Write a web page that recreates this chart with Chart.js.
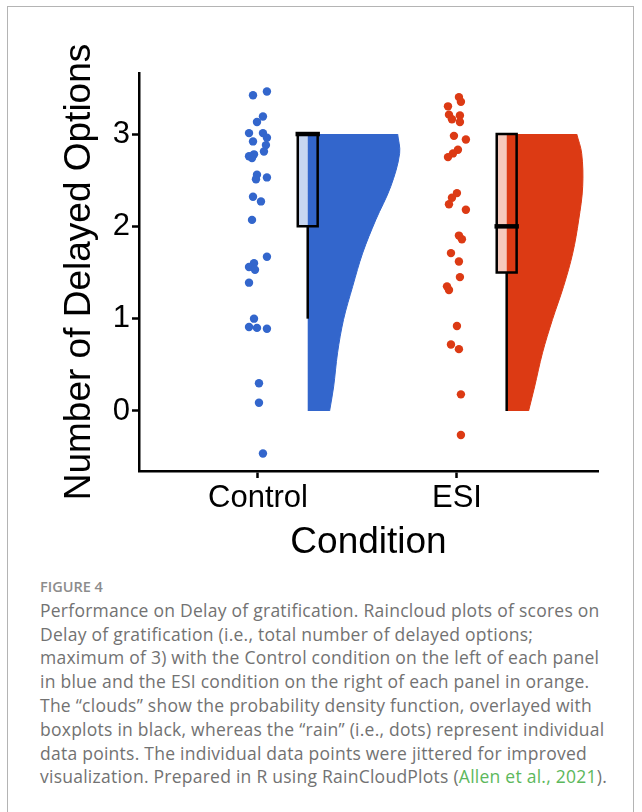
<!DOCTYPE html>
<html>
<head>
<meta charset="utf-8">
<script src="https://cdn.jsdelivr.net/npm/chart.js@4.4.1/dist/chart.umd.min.js"></script>
<style>
  html, body { margin: 0; padding: 0; background: #fff; }
  body { width: 642px; height: 812px; position: relative; overflow: hidden; }
  .card { position: absolute; left: 7px; top: 6px; width: 627px; height: 900px; border: 1px solid #b4b4b4; box-sizing: border-box; }
  #rain { position: absolute; left: 0; top: 0; }
  .caption { position: absolute; left: 40px; top: 575px; font-family: 'Open Sans', Lato, sans-serif; font-size: 17.5px; letter-spacing: 0.25px; line-height: 23.8px; color: #727272; white-space: nowrap; }
  .caption .label { font-size: 14.5px; letter-spacing: 0; font-weight: 600; color: #8c8c8c; }
  .caption .cite { color: #5cb85c; }
</style>
</head>
<body>
<div class="card"></div>
<canvas id="rain" width="642" height="565"></canvas>
<div class="caption">
  <div class="label">FIGURE 4</div>
  Performance on Delay of gratification. Raincloud plots of scores on<br>
  Delay of gratification (i.e., total number of delayed options;<br>
  maximum of 3) with the Control condition on the left of each panel<br>
  in blue and the ESI condition on the right of each panel in orange.<br>
  The “clouds” show the probability density function, overlayed with<br>
  boxplots in black, whereas the “rain” (i.e., dots) represent individual<br>
  data points. The individual data points were jittered for improved<br>
  visualization. Prepared in R using RainCloudPlots (<span class="cite">Allen et al., 2021</span>).
</div>
<script>
const categories = ['Control', 'ESI'];
const yTicks = [0, 1, 2, 3];

// rain: scores, with their horizontal jitter
const controlScores = [3.42, 3.46, 3.19, 3.13, 3.01, 3.01, 2.92, 2.96, 2.88, 2.76, 2.78, 2.81, 2.74, 2.56, 2.51, 2.53,
  2.32, 2.27, 2.07, 1.67, 1.60, 1.56, 1.53, 1.39, 1.00, 0.91, 0.90, 0.89, 0.30, 0.09, -0.46];
const controlJitter = [-0.025, 0.045, 0.025, -0.005, -0.045, 0.025, -0.025, 0.045, 0.04, -0.045, -0.02, 0.03, -0.03, -0.005, -0.01, 0.045,
  -0.025, 0.015, -0.03, 0.045, -0.02, -0.045, -0.015, -0.045, -0.02, -0.045, -0.005, 0.045, 0.005, 0.005, 0.025];
const esiScores = [3.40, 3.35, 3.30, 3.21, 3.20, 3.16, 3.13, 2.98, 2.94, 2.83, 2.79, 2.75, 2.36, 2.31, 2.24, 2.18,
  1.90, 1.86, 1.71, 1.62, 1.45, 1.35, 1.31, 0.92, 0.72, 0.67, 0.18, -0.26];
const esiJitter = [0.01, 0.02, -0.045, -0.04, 0.015, -0.025, 0.015, -0.015, 0.045, 0.005, -0.02, -0.045, 0, -0.025, -0.04, 0.045,
  0.01, 0.025, -0.03, 0.01, 0.015, -0.05, -0.04, 0, -0.03, 0.01, 0.02, 0.02];

// clouds: half-violin width at each score level
const cloudLevels = [0, 0.26, 0.63, 0.99, 1.35, 1.71, 2.07, 2.43, 2.79, 3];
const controlDensity = [0.11, 0.13, 0.15, 0.18, 0.226, 0.276, 0.342, 0.417, 0.462, 0.452];
const esiDensity = [0.11, 0.14, 0.18, 0.23, 0.286, 0.332, 0.362, 0.382, 0.377, 0.352];

// boxplots: lower whisker, q1, median, q3
const controlBox = [1, 2, 3, 3];
const esiBox = [0, 1.5, 2, 3];

const blue = '#3366cc';
const red = '#dc3a14';
const axisFont = "'Liberation Sans', Arial, sans-serif";

function groupDatasets(i, scores, jitter, density, box, color, light) {
  const pos = i + 1;
  const base = pos + 0.25;
  const half = 0.05;
  const [lo, q1, med, q3] = box;
  return [
    {
      data: [{x: base - half, y: q1}, {x: base + half, y: q1}, {x: base + half, y: q3}, {x: base - half, y: q3}, {x: base - half, y: q1}],
      borderColor: '#000', borderWidth: 2.5, borderCapStyle: 'square', borderJoinStyle: 'miter',
      pointRadius: 0, fill: false, order: 0
    },
    {
      data: [{x: base - half, y: med}, {x: base + half, y: med}],
      borderColor: '#000', borderWidth: 4.5, borderCapStyle: 'square', pointRadius: 0, fill: false, order: 0
    },
    {
      data: [{x: base, y: lo}, {x: base, y: q1}],
      borderColor: '#000', borderWidth: 2.5, pointRadius: 0, fill: false, order: 0
    },
    {
      indexAxis: 'y',
      data: cloudLevels.map((v, k) => ({x: base + density[k], y: v})),
      borderColor: color, borderWidth: 1, backgroundColor: color,
      fill: {value: base}, tension: 0.35, pointRadius: 0, order: 2
    },
    {
      indexAxis: 'y',
      data: [{x: base - half, y: q1}, {x: base - half, y: q3}],
      borderWidth: 0, backgroundColor: light, fill: {value: base}, pointRadius: 0, order: 3
    },
    {
      data: scores.map((s, k) => ({x: pos + jitter[k], y: s})),
      showLine: false, pointRadius: 4.2, pointBackgroundColor: color, pointBorderWidth: 0, order: 1
    }
  ];
}

const datasets = [
  ...groupDatasets(0, controlScores, controlJitter, controlDensity, controlBox, blue, '#c7d6f1'),
  ...groupDatasets(1, esiScores, esiJitter, esiDensity, esiBox, red, '#f6c9bc')
];

const tickGrid = { drawOnChartArea: false, drawTicks: true, tickLength: 7, tickWidth: 2.5, tickColor: '#000' };
const axisBorder = { display: true, color: '#000', width: 2.5 };

new Chart(document.getElementById('rain').getContext('2d'), {
  type: 'line',
  data: { datasets: datasets },
  options: {
    responsive: false,
    animation: false,
    events: [],
    layout: { padding: { top: 73, right: 44, left: 0, bottom: 0 } },
    plugins: { legend: { display: false }, tooltip: { enabled: false } },
    scales: {
      x: {
        type: 'linear', min: 0.402, max: 2.709,
        afterBuildTicks: s => { s.ticks = categories.map((c, i) => ({ value: i + 1 })); },
        afterFit: s => { s.height = 94; },
        ticks: { callback: v => categories[v - 1], font: { family: axisFont, size: 31 }, color: '#000', padding: 2, autoSkip: false, maxRotation: 0 },
        grid: tickGrid,
        border: axisBorder,
        title: { display: true, text: 'Condition', font: { family: axisFont, size: 37 }, color: '#000', padding: 0 }
      },
      y: {
        type: 'linear', min: -0.65, max: 3.661,
        afterBuildTicks: s => { s.ticks = yTicks.map(v => ({ value: v })); },
        afterFit: s => { s.width = 139; },
        ticks: { font: { family: axisFont, size: 31 }, color: '#000', padding: 2 },
        grid: tickGrid,
        border: axisBorder,
        title: { display: true, text: 'Number of Delayed Options', font: { family: axisFont, size: 37 }, color: '#000', padding: { top: 58, bottom: 0 } }
      }
    }
  }
});
</script>
</body>
</html>
